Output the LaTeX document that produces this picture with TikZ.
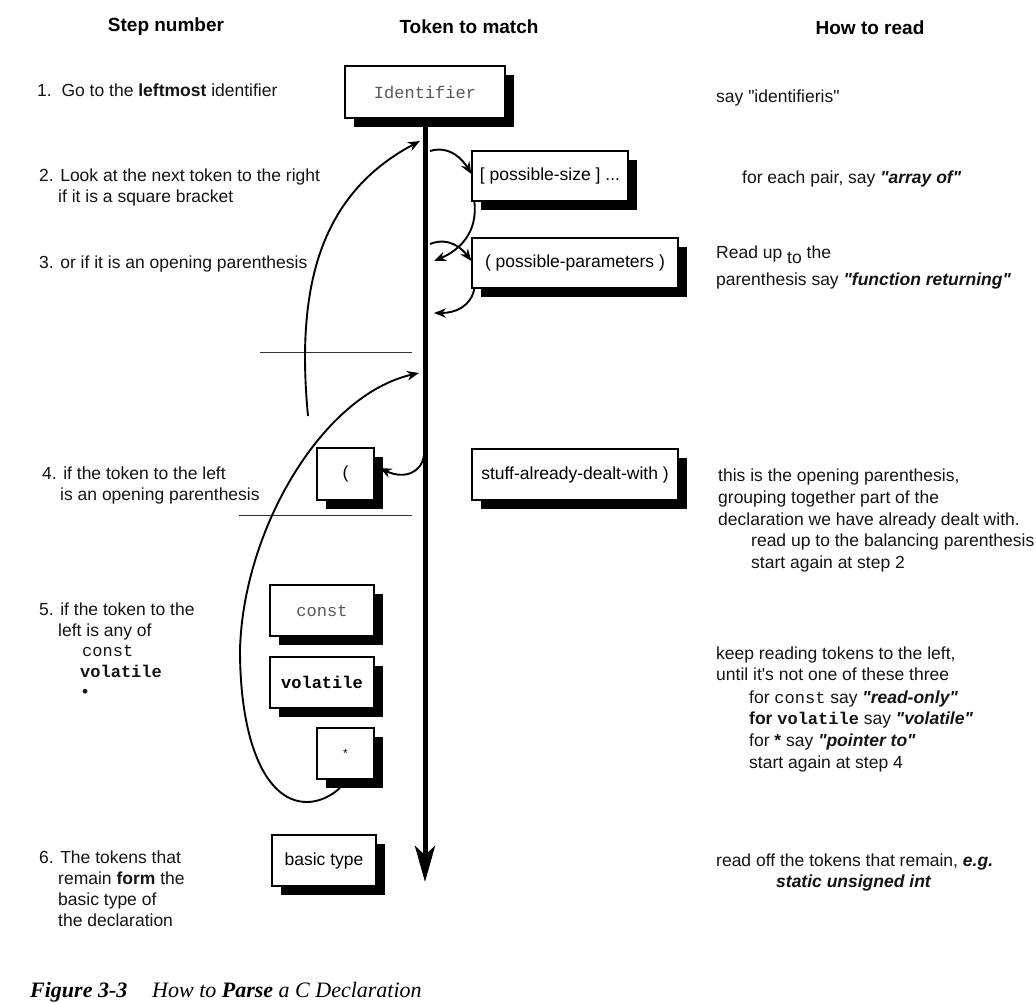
\documentclass[tikz,border=0pt]{standalone}
\usepackage{fontspec}
\setmainfont{Liberation Sans}
\setmonofont{Liberation Mono}
\newfontfamily\capfont{Liberation Serif}
\usetikzlibrary{arrows.meta,shadows}
\newcommand\qd{\textquotedbl}

\begin{document}
\begin{tikzpicture}[x=1pt,y=-1pt,
  txt/.style={anchor=base west, inner sep=0pt, font=\fontsize{17.5}{21}\selectfont, text=black!92},
  hdr/.style={anchor=base, inner sep=0pt, font=\fontsize{19}{22}\selectfont\bfseries},
  tok/.style={draw=black, line width=1.3pt, fill=white, inner sep=0pt,
    font=\fontsize{17.5}{21}\selectfont,
    drop shadow={fill=black, opacity=1, shadow xshift=9pt, shadow yshift=-9pt}},
  code/.style={font=\fontsize{17}{21}\ttfamily},
  flow/.style={line width=1.9pt, -{Stealth[length=12pt,width=9.5pt]}},
  rule/.style={line width=0.8pt, draw=black!80}
]
\useasboundingbox (0,0) rectangle (1036,1002);
\fill[white] (0,0) rectangle (1036,1002);

% column headings
\node[hdr] (h1) at (166,31) {Step number};
\node[hdr] (h2) at (469,33) {Token to match};
\node[hdr] (h3) at (870,34) {How to read};

% token boxes
\node[tok, minimum width=160pt, minimum height=52pt, code, text=black!65] (ident) at (425,92) {Identifier};
\node[tok, minimum width=156pt, minimum height=50pt] (size) at (550,176) {[ possible-size ] ...};
\node[tok, minimum width=206pt, minimum height=50pt] (params) at (575,263) {( possible-parameters )};
\node[tok, minimum width=57pt, minimum height=52pt] (lparen) at (345.5,474) {(};
\node[tok, minimum width=206pt, minimum height=51pt] (stuff) at (575,474.5) {stuff-already-dealt-with )};
\node[tok, minimum width=104pt, minimum height=51pt, code, text=black!65] (const) at (322,610.5) {const};
\node[tok, minimum width=104pt, minimum height=51pt, code, font=\fontsize{17}{21}\ttfamily\bfseries] (volatile) at (322,682.5) {volatile};
\node[tok, minimum width=57pt, minimum height=51pt] (star) at (345.5,753.5) {\fontsize{12}{12}\selectfont *};
\node[tok, minimum width=104pt, minimum height=51pt] (basic) at (324,860.5) {basic type};

% the spine
\coordinate (spinetop) at (425,127);
\coordinate (spinebot) at (425,882);
\draw[line width=5pt, -{Stealth[length=36pt,width=20pt,inset=9pt]}] (spinetop) -- (spinebot);

% separators
\coordinate (s1a) at (260,352); \coordinate (s1b) at (412,352);
\coordinate (s2a) at (239,515); \coordinate (s2b) at (412,515);
\draw[rule] (s1a) -- (s1b);
\draw[rule] (s2a) -- (s2b);

% points on the spine
\coordinate (sp1) at (420,141);
\coordinate (sp2) at (430,151);
\coordinate (sp3) at (434,261);
\coordinate (sp4) at (430,244);
\coordinate (sp5) at (434,313);
\coordinate (sp6) at (424,455);
\coordinate (sp7) at (419,373);
\coordinate (loopA) at (308,416);
\coordinate (loopB) at (340,788);

% connectors
\draw[flow] (loopA) .. controls (296,290) and (318,195) .. (sp1);
\draw[flow] (sp2) .. controls (450,145) and (463,160) .. ([yshift=2pt]size.west);
\draw[flow] ([xshift=3pt]size.south west) .. controls (478,232) and (460,250) .. (sp3);
\draw[flow] (sp4) .. controls (450,236) and (463,250) .. ([yshift=2pt]params.west);
\draw[flow] ([xshift=3pt]params.south west) .. controls (471,306) and (456,313) .. (sp5);
\draw[flow] (sp6) .. controls (422,472) and (405,480) .. ([xshift=5pt,yshift=6pt]lparen.east);
\draw[flow] (loopB) .. controls (330,797) and (318,802) .. (307,802)
  .. controls (265,802) and (240,740) .. (240,650)
  .. controls (243,530) and (322,395) .. (sp7);

% step column
\node[txt] (l1) at (37,96) {1.\ \ Go to the \textbf{leftmost} identifier};
\node[txt] (l2) at (39,181) {2. Look at the next token to the right};
\node[txt] (l2b) at (58,202) {if it is a square bracket};
\node[txt] (l3) at (39,268) {3. or if it is an opening parenthesis};
\node[txt] (l4) at (42,479) {4. if the token to the left};
\node[txt] (l4b) at (60,500) {is an opening parenthesis};
\node[txt] (l5) at (39,615) {5. if the token to the};
\node[txt] (l5b) at (58,636) {left is any of};
\node[txt, code] (l5c) at (82,656) {const};
\node[txt, font=\fontsize{17}{21}\ttfamily\bfseries] (l5d) at (80,677) {volatile};
\node[txt] (l5e) at (82,697) {•};
\node[txt] (l6) at (39,863) {6. The tokens that};
\node[txt] (l6b) at (58,884) {remain \textbf{form} the};
\node[txt] (l6c) at (58,905) {basic type of};
\node[txt] (l6d) at (58,926) {the declaration};

% reading column
\node[txt] (r1) at (716,102) {say \qd identifieris\qd};
\node[txt] (r2) at (742,183) {for each pair, say \textbf{\textit{\qd array of\qd}}};
\node[txt] (r3) at (716,258) {Read up \raisebox{-5pt}{to} the};
\node[txt] (r3b) at (716,285) {parenthesis say \textbf{\textit{\qd function returning\qd}}};
\node[txt] (r4) at (718,481) {this is the opening parenthesis,};
\node[txt] (r4b) at (718,503) {grouping together part of the};
\node[txt] (r4c) at (718,525) {declaration we have already dealt with.};
\node[txt] (r4d) at (751,546) {read up to the balancing parenthesis};
\node[txt] (r4e) at (751,568) {start again at step 2};
\node[txt] (r5) at (716,659) {keep reading tokens to the left,};
\node[txt] (r5b) at (716,680) {until it\textquotesingle s not one of these three};
\node[txt] (r5c) at (749,703) {for {\fontsize{17}{21}\ttfamily const} say \textbf{\textit{\qd read-only\qd}}};
\node[txt] (r5d) at (749,724) {\textbf{for} {\fontsize{17}{21}\ttfamily\bfseries volatile} say \textbf{\textit{\qd volatile\qd}}};
\node[txt] (r5e) at (749,746) {for \textbf{*} say \textbf{\textit{\qd pointer to\qd}}};
\node[txt] (r5f) at (749,768) {start again at step 4};
\node[txt] (r6) at (716,866) {read off the tokens that remain, \textbf{\textit{e.g.}}};
\node[txt] (r6b) at (776,887) {\textbf{\textit{static unsigned int}}};

% caption
\node[anchor=base west, inner sep=0pt, font=\capfont\fontsize{22}{26}\selectfont] (cap1) at (30,997) {\textbf{\textit{Figure 3-3}}};
\node[anchor=base west, inner sep=0pt, font=\capfont\fontsize{22}{26}\selectfont] (cap2) at (152,997) {\textit{How to \textbf{Parse} a C Declaration}};
\end{tikzpicture}
\end{document}
